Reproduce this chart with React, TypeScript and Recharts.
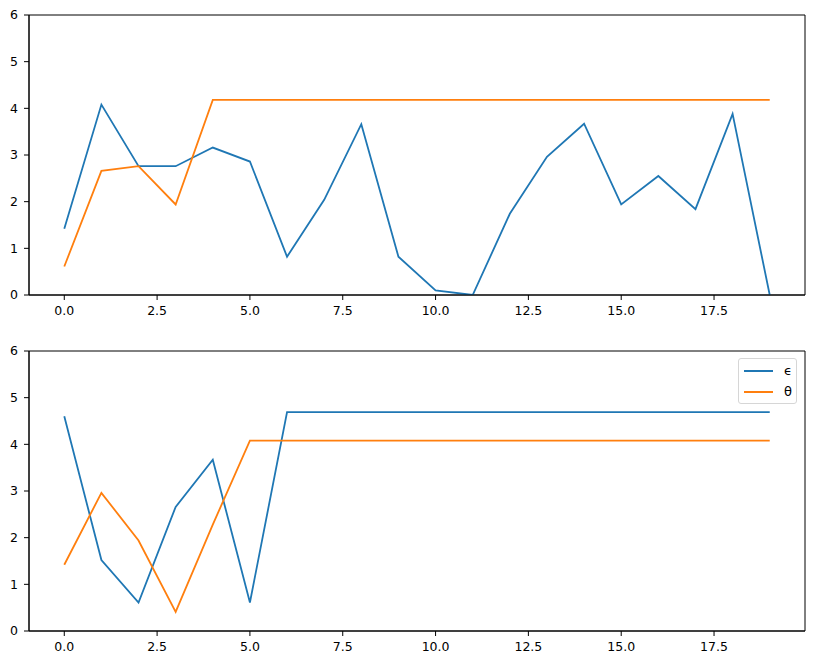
import { Legend, Line, LineChart, ReferenceArea, XAxis, YAxis } from 'recharts';

const steps = [0, 1, 2, 3, 4, 5, 6, 7, 8, 9, 10, 11, 12, 13, 14, 15, 16, 17, 18, 19];

const topEpsilon = [1.42, 4.08, 2.76, 2.76, 3.16, 2.86, 0.82, 2.04, 3.66, 0.82, 0.1, 0.0, 1.74, 2.96, 3.67, 1.94, 2.55, 1.84, 3.88, 0.0];
const topTheta = [0.61, 2.66, 2.76, 1.94, 4.18, 4.18, 4.18, 4.18, 4.18, 4.18, 4.18, 4.18, 4.18, 4.18, 4.18, 4.18, 4.18, 4.18, 4.18, 4.18];

const bottomEpsilon = [4.6, 1.52, 0.61, 2.66, 3.67, 0.61, 4.69, 4.69, 4.69, 4.69, 4.69, 4.69, 4.69, 4.69, 4.69, 4.69, 4.69, 4.69, 4.69, 4.69];
const bottomTheta = [1.42, 2.96, 1.94, 0.41, 2.28, 4.08, 4.08, 4.08, 4.08, 4.08, 4.08, 4.08, 4.08, 4.08, 4.08, 4.08, 4.08, 4.08, 4.08, 4.08];

const xTicks = [0, 2.5, 5, 7.5, 10, 12.5, 15, 17.5];
const yTicks = [0, 1, 2, 3, 4, 5, 6];
const xDomain: [number, number] = [-0.95, 19.95];

const BLUE = '#1f77b4';
const ORANGE = '#ff7f0e';
const FONT = '"DejaVu Sans", sans-serif';

const tickStyle = { fill: '#000', fontSize: 12.5, fontFamily: FONT };

function buildRows(eps: number[], theta: number[]) {
  return steps.map((s, i) => ({ x: s, eps: eps[i], theta: theta[i] }));
}

function MplLegend() {
  const items = [
    { label: 'ϵ', color: BLUE },
    { label: 'θ', color: ORANGE },
  ];
  return (
    <div
      style={{
        width: 57,
        height: 44,
        border: '1px solid #d6d6d6',
        borderRadius: 3,
        background: 'rgba(255,255,255,0.8)',
        boxSizing: 'content-box',
        fontFamily: FONT,
        fontSize: 13,
      }}
    >
      {items.map((it, i) => (
        <div key={it.label} style={{ display: 'flex', alignItems: 'center', height: 20, marginTop: i === 0 ? 2 : 1 }}>
          <div style={{ width: 29, height: 2, background: it.color, marginLeft: 5 }} />
          <span style={{ marginLeft: 11, lineHeight: '20px' }}>{it.label}</span>
        </div>
      ))}
    </div>
  );
}

interface PanelProps {
  eps: number[];
  theta: number[];
  height: number;
  xAxisHeight: number;
  showLegend?: boolean;
}

function Panel({ eps, theta, height, xAxisHeight, showLegend }: PanelProps) {
  const rows = buildRows(eps, theta);
  return (
    <LineChart width={813} height={height} data={rows} margin={{ top: 15, right: 8, left: 0, bottom: 0 }}>
      <XAxis
        dataKey="x"
        type="number"
        domain={xDomain}
        ticks={xTicks}
        tickFormatter={(v: number) => v.toFixed(1)}
        allowDataOverflow
        height={xAxisHeight}
        tick={tickStyle}
        tickSize={5}
        tickMargin={6}
        axisLine={{ stroke: '#000' }}
        tickLine={{ stroke: '#000' }}
      />
      <YAxis
        type="number"
        domain={[0, 6]}
        ticks={yTicks}
        allowDataOverflow
        width={29}
        tick={tickStyle}
        tickSize={5}
        tickMargin={6}
        axisLine={{ stroke: '#000' }}
        tickLine={{ stroke: '#000' }}
      />
      <ReferenceArea x1={xDomain[0]} x2={xDomain[1]} y1={0} y2={6} fill="none" stroke="#000" strokeWidth={1} ifOverflow="visible" />
      <Line dataKey="eps" name="ϵ" stroke={BLUE} strokeWidth={1.8} dot={false} isAnimationActive={false} />
      <Line dataKey="theta" name="θ" stroke={ORANGE} strokeWidth={1.8} dot={false} isAnimationActive={false} />
      {showLegend && (
        <Legend
          layout="vertical"
          align="center"
          verticalAlign="middle"
          content={() => <MplLegend />}
          wrapperStyle={{ top: 22, left: 738, width: 59, height: 46, bottom: 'auto', right: 'auto' }}
        />
      )}
    </LineChart>
  );
}

export default function App() {
  return (
    <div style={{ position: 'absolute', top: 0, left: 0, width: 813, height: 665, background: '#fff' }}>
      <div style={{ position: 'absolute', top: 0, left: 0 }}>
        <Panel eps={topEpsilon} theta={topTheta} height={330} xAxisHeight={35} />
      </div>
      <div style={{ position: 'absolute', top: 336, left: 0 }}>
        <Panel eps={bottomEpsilon} theta={bottomTheta} height={329} xAxisHeight={34} showLegend />
      </div>
    </div>
  );
}
